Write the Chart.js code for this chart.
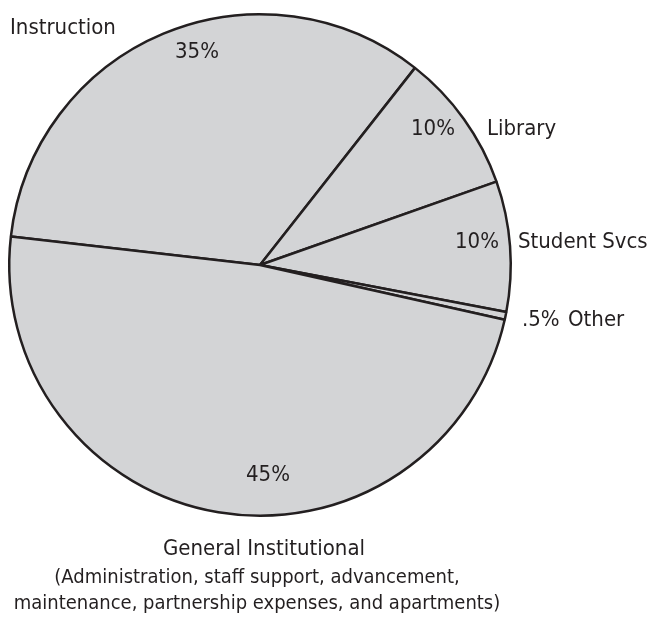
<!DOCTYPE html>
<html>
<head>
<meta charset="utf-8">
<script src="https://cdn.jsdelivr.net/npm/chart.js@4.4.1/dist/chart.umd.min.js"></script>
<style>
	body {margin: 0; background: #ffffff;}
	#wrap {width: 654px; height: 618px;}
</style>
</head>
<body>
<div id="wrap"><canvas id="pie" width="654" height="618"></canvas></div>
<script>
// slice sizes (degrees / 3.6), clockwise from Instruction
var categories = ['Instruction', 'Library', 'Student Svcs', 'Other', 'General Institutional'];
var sliceValues = [33.8, 9.0, 8.4, 0.5, 48.3];
// the percentages printed on the chart
var printedPercents = ['35%', '10%', '10%', '.5%', '45%'];
var footnoteLines = [
	'(Administration, staff support, advancement,',
	'maintenance, partnership expenses, and apartments)'
];

var ink = '#231f20';
var fontFamily = '"Liberation Sans Narrow", "DejaVu Sans Condensed", "Arial Narrow", sans-serif';

// where each text sits, relative to the pie centre
var percentPlacement = [
	{dx: -63, dy: -213, align: 'center'},
	{dx: 173, dy: -136, align: 'center'},
	{dx: 217, dy: -23, align: 'center'},
	{dx: 262, dy: 55, align: 'left'},
	{dx: 8, dy: 210, align: 'center'}
];
var namePlacement = [
	{dx: -250, dy: -237, align: 'left'},
	{dx: 227, dy: -136, align: 'left'},
	{dx: 258, dy: -23, align: 'left'},
	{dx: 308, dy: 55, align: 'left'},
	{dx: 4, dy: 284, align: 'center'}
];

var labelPlugin =
{
	id: 'pieLabels',
	afterDraw: function (chart)
	{
		var arc = chart.getDatasetMeta(0).data[0];
		var cx = arc.x;
		var cy = arc.y;
		var ctx = chart.ctx;

		ctx.save();
		ctx.fillStyle = ink;
		ctx.textBaseline = 'middle';
		ctx.font = '22px ' + fontFamily;

		printedPercents.forEach(function (text, i)
		{
			var p = percentPlacement[i];
			ctx.textAlign = p.align;
			ctx.fillText(text, cx + p.dx, cy + p.dy);
		});

		categories.forEach(function (text, i)
		{
			var p = namePlacement[i];
			ctx.textAlign = p.align;
			ctx.fillText(text, cx + p.dx, cy + p.dy);
		});

		ctx.font = '20px ' + fontFamily;
		ctx.textAlign = 'center';
		footnoteLines.forEach(function (text, i)
		{
			ctx.fillText(text, cx - 3, cy + 313 + i * 26);
		});

		ctx.restore();
	}
};

new Chart(document.getElementById('pie'),
{
	type: 'pie',
	data:
	{
		labels: categories,
		datasets: [
		{
			data: sliceValues,
			backgroundColor: '#d3d4d6',
			borderColor: ink,
			borderWidth: 2.5
		}]
	},
	options:
	{
		responsive: false,
		animation: false,
		rotation: 276.5,
		layout:
		{
			padding: {left: 8, top: 13, right: 142, bottom: 101}
		},
		plugins:
		{
			legend: {display: false},
			tooltip: {enabled: false}
		}
	},
	plugins: [labelPlugin]
});
</script>
</body>
</html>
